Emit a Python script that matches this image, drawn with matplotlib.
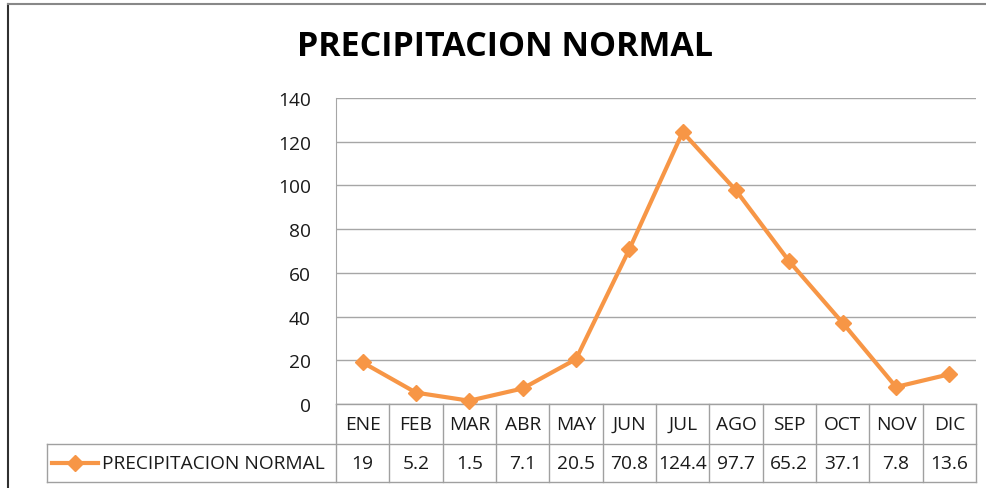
import matplotlib
matplotlib.use("Agg")
import matplotlib.pyplot as plt
from matplotlib.lines import Line2D

months = ["ENE", "FEB", "MAR", "ABR", "MAY", "JUN", "JUL", "AGO", "SEP", "OCT", "NOV", "DIC"]
values = [19, 5.2, 1.5, 7.1, 20.5, 70.8, 124.4, 97.7, 65.2, 37.1, 7.8, 13.6]
value_labels = ["19", "5.2", "1.5", "7.1", "20.5", "70.8", "124.4", "97.7", "65.2", "37.1", "7.8", "13.6"]
yticks = [0, 20, 40, 60, 80, 100, 120, 140]
title = "PRECIPITACION NORMAL"
series_name = "PRECIPITACION NORMAL"

orange = "#F79646"
grid_c = "#A6A6A6"
tab_c = "#A0A0A0"
txt_c = "#1a1a1a"
fs = 13.8
W, H = 987, 489

plt.rcParams['font.family'] = ['Open Sans', 'DejaVu Sans']
fig = plt.figure(figsize=(W / 100, H / 100), dpi=100)
fig.patch.set_facecolor("white")

L, R, B, T = 336, 976, 405, 99
ax = fig.add_axes([L / W, 1 - B / H, (R - L) / W, (B - T) / H])
n = len(months)
x = list(range(n))
ax.plot(x, values, color=orange, lw=3, marker="D", ms=8.5, mec=orange, mfc=orange, zorder=5, clip_on=False)
ax.set_xlim(-0.5, n - 0.5)
ax.set_ylim(0, 140)
ax.set_yticks(yticks)
ax.set_yticklabels([str(v) for v in yticks], fontsize=fs, color=txt_c)
ax.tick_params(axis="y", length=0, pad=18)
ax.set_xticks([])
ax.grid(axis="y", color=grid_c, lw=1)
for s in ["top", "right", "bottom"]:
    ax.spines[s].set_visible(False)
ax.spines["left"].set_color(grid_c)
ax.set_axisbelow(True)

# data table below the axis
row_h = 40 / (B - T)
row2_h = 38 / (B - T)
trans = ax.get_xaxis_transform()
y0 = 0
y1 = -row_h
y2 = -row_h - row2_h
unit = (R - L) / n
xl_tab = -0.5 - (L - 47) / unit
for i in range(n + 1):
    ax.add_line(Line2D([i - 0.5, i - 0.5], [y0, y2], transform=trans, color=tab_c, lw=1, clip_on=False))
ax.add_line(Line2D([xl_tab, n - 0.5], [y1, y1], transform=trans, color=tab_c, lw=1, clip_on=False))
ax.add_line(Line2D([xl_tab, n - 0.5], [y2, y2], transform=trans, color=tab_c, lw=1, clip_on=False))
ax.add_line(Line2D([xl_tab, xl_tab], [y1, y2], transform=trans, color=tab_c, lw=1, clip_on=False))
ax.add_line(Line2D([-0.5, n - 0.5], [0, 0], transform=trans, color=tab_c, lw=1, clip_on=False))
for i, (m, v) in enumerate(zip(months, value_labels)):
    ax.text(i, (y0 + y1) / 2, m, transform=trans, ha="center", va="center", fontsize=fs, color=txt_c)
    ax.text(i, (y1 + y2) / 2, v, transform=trans, ha="center", va="center", fontsize=fs, color=txt_c)

# legend key inside the table
ymid = (y1 + y2) / 2
lx0 = xl_tab + (52 - 47) / unit
lx1 = xl_tab + (98 - 47) / unit
ax.add_line(Line2D([lx0, lx1], [ymid, ymid], transform=trans, color=orange, lw=3, clip_on=False))
ax.add_line(Line2D([(lx0 + lx1) / 2], [ymid], transform=trans, color=orange, marker="D", ms=8.5, lw=0, clip_on=False))
ax.text(xl_tab + (102 - 47) / unit, ymid, series_name, transform=trans, ha="left", va="center", fontsize=fs, color=txt_c)

fig.text(505 / W, 1 - 47 / H, title, ha="center", va="center", fontsize=24.5, fontweight="bold", color="black")

# chart border (left and top visible)
fig.add_artist(Line2D([8.5 / W, 8.5 / W], [0, 1 - 4.5 / H], transform=fig.transFigure, color="#303030", lw=1.5))
fig.add_artist(Line2D([8.5 / W, 1], [1 - 4.5 / H, 1 - 4.5 / H], transform=fig.transFigure, color="#888888", lw=1.5))

fig.savefig("out.png", dpi=100, facecolor="white")
